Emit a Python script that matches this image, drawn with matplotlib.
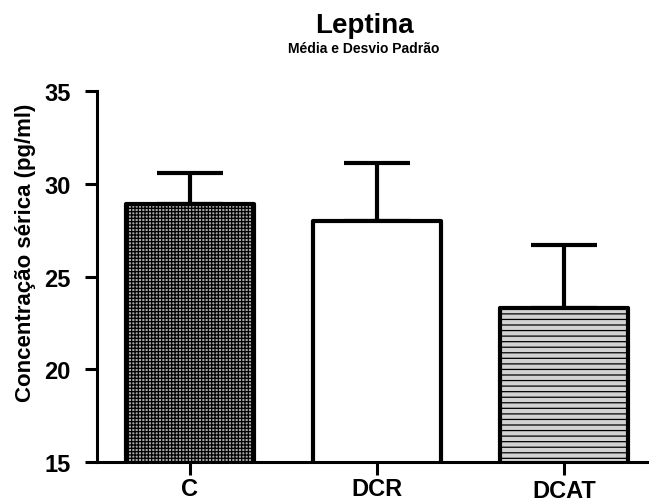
import matplotlib.pyplot as plt
from matplotlib.transforms import ScaledTranslation

groups = ["C", "DCR", "DCAT"]
means = [28.9, 28.0, 23.3]
sds = [1.7, 3.1, 3.4]
colors = ["#a8a8a8", "#ffffff", "#d2d2d2"]
hatches = ["+++++", "", "---"]

plt.rcParams["font.family"] = ["Liberation Sans", "DejaVu Sans"]
plt.rcParams["font.weight"] = "bold"
plt.rcParams["hatch.linewidth"] = 0.9

fig = plt.figure(figsize=(6.49, 5.02), dpi=100)
ax = fig.add_axes([0.1495, 0.0777, 0.8505, 0.739])

pos = list(range(len(groups)))
bars = ax.bar(pos, means, width=0.685, bottom=0, color=colors, edgecolor="black",
              linewidth=3, zorder=2)
for b, h in zip(bars, hatches):
    b.set_hatch(h)
    b.set_joinstyle("round")
ax.errorbar(pos, means, yerr=[[0] * 3, sds], fmt="none", ecolor="black",
            elinewidth=3, capsize=24, capthick=3, zorder=1)

ax.set_ylim(15, 35)
ax.set_xlim(-0.497, 2.455)
ax.set_yticks([15, 20, 25, 30, 35])
ax.set_xticks(pos)
ax.set_xticklabels(groups)

for s in ["top", "right"]:
    ax.spines[s].set_visible(False)
ax.spines["left"].set_linewidth(2.2)
ax.spines["bottom"].set_linewidth(2.2)
ax.tick_params(axis="y", length=9, width=2.2, pad=10, labelsize=17)
ax.tick_params(axis="x", length=9, width=2.2, pad=2, labelsize=17)

# DCAT label sits a bit lower in the original
lab = ax.get_xticklabels()[2]
lab.set_transform(lab.get_transform() + ScaledTranslation(0, -1.5 / 100, fig.dpi_scale_trans))

ax.set_ylabel("Concentração sérica (pg/ml)", fontsize=16, fontweight="bold")
ax.yaxis.set_label_coords(-0.11, 0.566)

fig.text(0.561, 0.948, "Leptina", ha="center", va="center", fontsize=20)
fig.text(0.561, 0.902, "Média e Desvio Padrão", ha="center", va="center", fontsize=10)

fig.savefig("out.png", dpi=100)
